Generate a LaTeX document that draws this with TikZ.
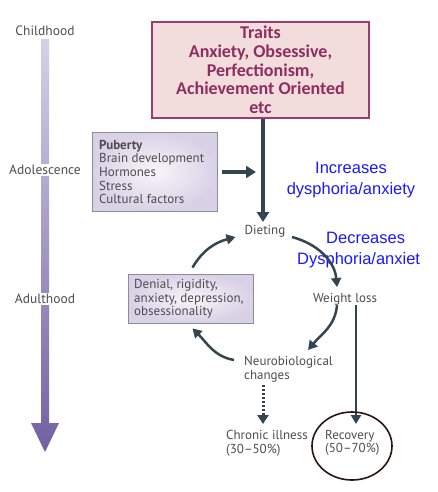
\documentclass[tikz,border=0pt]{standalone}
\usepackage{fontspec}
\setmainfont{PT Sans}
\newfontfamily\traitsfont{Carlito}
\newfontfamily\bluefont{Liberation Sans}
\usetikzlibrary{arrows.meta,shapes.geometric}
\definecolor{txtgray}{HTML}{4D4D4D}
\definecolor{arrdark}{HTML}{34454F}
\definecolor{traitfill}{HTML}{F2DCDC}
\definecolor{traitborder}{HTML}{9B3B6E}
\definecolor{traittext}{HTML}{8E2D62}
\definecolor{bluetxt}{HTML}{1A1AFF}
\definecolor{tltop}{HTML}{D6D0E7}
\definecolor{tlbot}{HTML}{7260A2}
\definecolor{boxlav}{HTML}{D9D1E6}
\definecolor{boxborder}{HTML}{8E8A99}
\definecolor{ringcol}{HTML}{2A1515}
\tikzset{
  lbl/.style={font=\fontsize{13}{13.6}\selectfont, text=txtgray, inner sep=0pt, align=left},
  agelbl/.style={font=\fontsize{13.5}{14}\selectfont, text=txtgray, fill=white, inner sep=1.5pt},
  bluelbl/.style={font=\bluefont\fontsize{16.5}{21}\selectfont, text=bluetxt, inner sep=0pt, align=center},
  lavbox/.style={draw=boxborder, line width=0.8pt, inner color=white!80!boxlav, outer color=boxlav},
  mainarrow/.style={draw=arrdark, line width=3.5pt, -{Triangle[length=10pt,width=12pt]}},
  cycarrow/.style={draw=arrdark, line width=2.5pt, -{Triangle[length=9pt,width=10pt]}},
  dotarrow/.style={draw=arrdark, line width=3pt, dash pattern=on 2pt off 2pt, -{Triangle[length=9pt,width=11pt]}},
}
\begin{document}
\begin{tikzpicture}[x=1pt,y=1pt]
\useasboundingbox (0,0) rectangle (438,-492);
\fill[white] (0,0) rectangle (438,-492);
% timeline
\shade[top color=tltop, bottom color=tlbot]
  (41,-39) -- (49,-39) -- (49,-423) -- (59,-423) -- (45,-452) -- (31,-423) -- (41,-423) -- cycle;
\node[agelbl] (childhood) at (45,-31) {Childhood};
\node[agelbl] (adolescence) at (45,-170) {Adolescence};
\node[agelbl] (adulthood) at (45,-299) {Adulthood};
% traits box
\node[draw=traitborder, line width=2pt, fill=traitfill, minimum width=217pt, minimum height=96pt,
  text=traittext, font=\traitsfont\bfseries\fontsize{18}{18.7}\selectfont, align=center, inner sep=0pt]
  (traits) at (260.5,-70) {Traits\\Anxiety, Obsessive,\\Perfectionism,\\Achievement Oriented\\etc};
% puberty box
\node[lavbox, minimum width=125pt, minimum height=79pt] (puberty) at (154.5,-171.5) {};
\node[lbl, anchor=west] (pubtext) at (99,-172) {\textbf{Puberty}\\Brain development\\Hormones\\Stress\\Cultural factors};
% denial box
\node[lavbox, minimum width=125pt, minimum height=49pt] (denial) at (190.5,-298.5) {};
\node[lbl, anchor=west] (denialtext) at (134,-299) {Denial, rigidity,\\anxiety, depression,\\obsessionality};
% cycle labels
\node[lbl] (dieting) at (265,-231) {Dieting};
\node[lbl] (wl) at (345,-299) {Weight loss};
\node[lbl, anchor=west] (neuro) at (244,-369) {Neurobiological\\changes};
\node[lbl, anchor=west] (chronic) at (226,-443) {Chronic illness\\(30--50\%)};
\node[lbl, anchor=west] (recovery) at (325,-443) {Recovery\\(50--70\%)};
% blue labels
\node[bluelbl] (incr) at (351,-180) {Increases\\dysphoria/anxiety};
\node[bluelbl, anchor=west, align=left] (decr) at (297,-250.5) {\hspace*{29pt}Decreases\\Dysphoria/anxiet};
% arrows
\coordinate (join) at (263,-172);
\draw[mainarrow] (traits.south -| join) -- (263,-222);
\draw[mainarrow] ([xshift=5pt]puberty.east |- join) -- ([xshift=-7pt]join);
\draw[cycarrow] (292,-237) to[out=-15, in=95] (337,-287);
\draw[cycarrow] ([xshift=-8pt]wl.south) to[out=-95, in=50] (308,-350);
\draw[cycarrow] ([shift={(-10pt,9pt)}]neuro.west) to[out=170, in=-45] ([shift={(2pt,-5pt)}]denial.south);
\draw[cycarrow] ([shift={(2pt,6pt)}]denial.north) to[out=60, in=195] ([shift={(-9pt,-6pt)}]dieting.west);
\draw[dotarrow] (263,-385) -- (263,-424);
\draw[draw=arrdark, line width=2.5pt, -{Triangle[length=9pt,width=10pt]}] ([xshift=11pt]wl.south) -- (356,-424);
\draw[draw=ringcol, line width=1.6pt] (352,-446) ellipse [x radius=40pt, y radius=34pt];
\end{tikzpicture}
\end{document}
